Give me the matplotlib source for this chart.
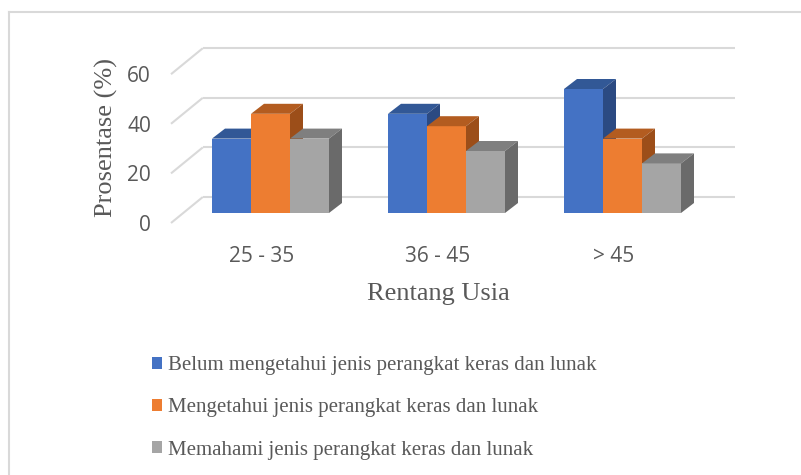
import matplotlib.pyplot as plt
from matplotlib.patches import Polygon
from matplotlib.lines import Line2D

# data
categories = ["25 - 35", "36 - 45", "> 45"]
series = [
    "Belum mengetahui jenis perangkat keras dan lunak",
    "Mengetahui jenis perangkat keras dan lunak",
    "Memahami jenis perangkat keras dan lunak",
]
belum = [30, 40, 50]
mengetahui = [40, 35, 30]
memahami = [30, 25, 20]
yticks = [0, 20, 40, 60]

front_colors = ["#4472C4", "#ED7D31", "#A5A5A5"]
top_colors = ["#325896", "#B35C20", "#7F7F7F"]
side_colors = ["#2B4A82", "#9C4E19", "#6A6A6A"]
grid_col = "#D9D9D9"
text_col = "#595959"

W, H = 801, 475
fig = plt.figure(figsize=(W / 100, H / 100), dpi=100)
ax = fig.add_axes([0, 0, 1, 1])

# pixel mapping: category 0 centre at px 270.5, 176 px per category,
# value 0 at px 213 from top, 2.48 px per percent
cx0, cstep = 270.5, 176.0
py0, pstep = 213.0, 2.48
ax.set_xlim(-cx0 / cstep, (W - cx0) / cstep)
ax.set_ylim((py0 - H) / pstep, py0 / pstep)
ax.axis("off")

ux = 1 / cstep   # one pixel in x data units
uy = 1 / pstep   # one pixel in y data units

# depth offsets in pixels (x right, y up) relative to bar front plane
front = (-11.5, -10)
bar_depth = (13, 10)
back = (20.3, 16)

xl, xr = -0.5, 2.5
ymax = yticks[-1]

# floor / wall gridlines
for t in yticks:
    ax.plot([xl + front[0] * ux, xl + back[0] * ux],
            [t + front[1] * uy, t + back[1] * uy],
            color=grid_col, lw=1.5, solid_capstyle="butt", zorder=1)
    ax.plot([xl + back[0] * ux, xr + back[0] * ux + 4 * ux],
            [t + back[1] * uy, t + back[1] * uy],
            color=grid_col, lw=1.5, solid_capstyle="butt", zorder=1)
    ax.text(xl + front[0] * ux - 20 * ux, t + front[1] * uy - 2.5 * uy, str(t),
            ha="right", va="center", fontsize=15, family="Open Sans",
            color=text_col)

# bars with 3d faces
width = 39 / cstep
x = list(range(len(categories)))
dx, dy = bar_depth[0] * ux, bar_depth[1] * uy
bars = []
for i, vals in enumerate([belum, mengetahui, memahami]):
    xs = [xi + (i - 1) * width for xi in x]
    b = ax.bar(xs, vals, width=width, color=front_colors[i],
               edgecolor="none", zorder=3 + i, label=series[i])
    bars.append(b)
    for xc, v in zip(xs, vals):
        x0, x1 = xc - width / 2, xc + width / 2
        ax.add_patch(Polygon([(x0, v), (x1, v), (x1 + dx, v + dy), (x0 + dx, v + dy)],
                             closed=True, facecolor=top_colors[i],
                             edgecolor="none", zorder=3 + i))
        ax.add_patch(Polygon([(x1, 0), (x1 + dx, dy), (x1 + dx, v + dy), (x1, v)],
                             closed=True, facecolor=side_colors[i],
                             edgecolor="none", zorder=3 + i))

# category labels on front plane
for xi, c in zip(x, categories):
    ax.text(xi - 9 * ux, -43 * uy, c, ha="center", va="center",
            fontsize=15, family="Open Sans", color=text_col)

ax.text(1 - 8 * ux, -81 * uy, "Rentang Usia", ha="center", va="center",
        fontsize=19, family="Liberation Serif", color=text_col)
ax.text(-1.0 + 12 * ux, ymax / 2 + 2 - 3.5 * uy, "Prosentase (%)", ha="center", va="center",
        rotation=90, fontsize=19, family="Liberation Serif", color=text_col)

# chart border
fig.add_artist(Line2D([8.5 / W, 8.5 / W], [0, 1 - 11.5 / H], color=grid_col, lw=1.5))
fig.add_artist(Line2D([8.5 / W, 1], [1 - 11.5 / H, 1 - 11.5 / H], color=grid_col, lw=1.5))

leg = ax.legend(handles=[b[0] for b in bars], labels=series,
                loc="upper left", bbox_to_anchor=(152 / W, 1 - 356 / H),
                bbox_transform=fig.transFigure, frameon=False,
                prop={"family": "Liberation Serif", "size": 15},
                handlelength=0.5, handleheight=0.5, handletextpad=0.25,
                labelspacing=1.12, borderpad=0, borderaxespad=0)
for t in leg.get_texts():
    t.set_color(text_col)

fig.savefig("out.png", dpi=100)
